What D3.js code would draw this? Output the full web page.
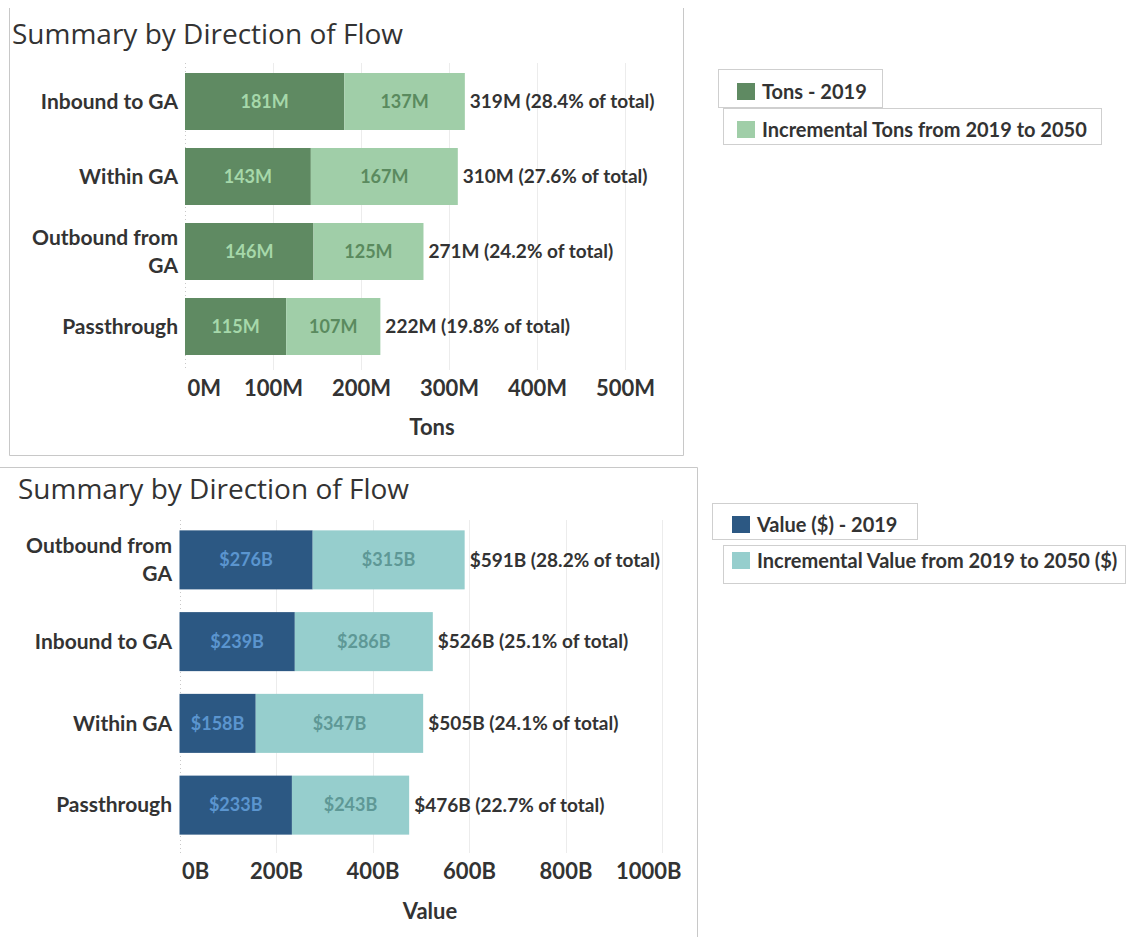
<!DOCTYPE html>
<html>
<head>
<meta charset="utf-8">
<script src="https://cdn.jsdelivr.net/npm/d3@7"></script>
<style>
  html, body { margin: 0; padding: 0; background: #fff; }
  svg text { font-family: Lato, "Open Sans", sans-serif; }
</style>
</head>
<body>
<svg id="chart" width="1129" height="937"></svg>
<script>
// ---------- DATA ----------
const chartTitle = "Summary by Direction of Flow";

const tonsCategories = ["Inbound to GA", "Within GA", "Outbound from GA", "Passthrough"];
const tons2019 = [181, 143, 146, 115];
const tonsIncremental = [137, 167, 125, 107];
const tonsTotal = [319, 310, 271, 222];
const tonsShare = [28.4, 27.6, 24.2, 19.8];
const tonsTicks = [0, 100, 200, 300, 400, 500];
const tonsSeries = ["Tons - 2019", "Incremental Tons from 2019 to 2050"];
const tonsAxisTitle = "Tons";

const valueCategories = ["Outbound from GA", "Inbound to GA", "Within GA", "Passthrough"];
const value2019 = [276, 239, 158, 233];
const valueIncremental = [315, 286, 347, 243];
const valueTotal = [591, 526, 505, 476];
const valueShare = [28.2, 25.1, 24.1, 22.7];
const valueTicks = [0, 200, 400, 600, 800, 1000];
const valueSeries = ["Value ($) - 2019", "Incremental Value from 2019 to 2050 ($)"];
const valueAxisTitle = "Value";

// ---------- DRAW ----------
const svg = d3.select("#chart");
const textColor = "#333333";

// panel borders
svg.append("path").attr("d", "M9.5,8 V455.5 H683.5 V8")
  .attr("fill", "none").attr("stroke", "#c8c8c8").attr("stroke-width", 1);
svg.append("path").attr("d", "M0,467.5 H697.5 V937")
  .attr("fill", "none").attr("stroke", "#c8c8c8").attr("stroke-width", 1);

function drawChart(cfg) {
  const g = svg.append("g");
  const rows = cfg.categories.map((c, i) => ({
    cat: c, base: cfg.base[i], inc: cfg.inc[i], total: cfg.total[i], share: cfg.share[i]
  }));

  const x = d3.scaleLinear().domain([cfg.ticks[0], cfg.ticks[cfg.ticks.length - 1]]).range(cfg.xRange);
  const y = d3.scaleBand().domain(cfg.categories).range(cfg.yRange)
    .paddingInner(cfg.padInner).paddingOuter(cfg.padInner / 2);

  // title
  g.append("text").attr("x", cfg.titleX).attr("y", cfg.titleY)
    .attr("font-size", 28).attr("fill", textColor)
    .style("font-family", "'Open Sans', Lato, sans-serif")
    .text(chartTitle);

  // gridlines
  g.selectAll(".grid").data(cfg.ticks.slice(1)).join("line")
    .attr("x1", d => Math.round(x(d)) + 0.5).attr("x2", d => Math.round(x(d)) + 0.5)
    .attr("y1", cfg.gridY[0]).attr("y2", cfg.gridY[1])
    .attr("stroke", "#ececec").attr("stroke-width", 1);
  // zero line (dotted)
  g.append("line")
    .attr("x1", Math.round(x(0)) + 0.5).attr("x2", Math.round(x(0)) + 0.5)
    .attr("y1", cfg.gridY[0]).attr("y2", cfg.gridY[1])
    .attr("stroke", "#c8c8c8").attr("stroke-dasharray", "1,3");

  // bars: base
  g.selectAll(".base").data(rows).join("rect")
    .attr("x", x(0)).attr("y", d => y(d.cat))
    .attr("width", d => x(d.base) - x(0)).attr("height", y.bandwidth())
    .attr("fill", cfg.colors[0]);
  // bars: incremental
  g.selectAll(".inc").data(rows).join("rect")
    .attr("x", d => x(d.base)).attr("y", d => y(d.cat))
    .attr("width", d => x(d.base + d.inc) - x(d.base)).attr("height", y.bandwidth())
    .attr("fill", cfg.colors[1]);

  // inner labels
  g.selectAll(".bl").data(rows).join("text")
    .attr("x", d => (x(0) + x(d.base)) / 2).attr("y", d => y(d.cat) + y.bandwidth() / 2)
    .attr("dy", "0.35em").attr("text-anchor", "middle")
    .attr("font-size", 18).attr("font-weight", "bold").attr("fill", cfg.labelColors[0])
    .text(d => cfg.fmt(d.base));
  g.selectAll(".il").data(rows).join("text")
    .attr("x", d => (x(d.base) + x(d.base + d.inc)) / 2).attr("y", d => y(d.cat) + y.bandwidth() / 2)
    .attr("dy", "0.35em").attr("text-anchor", "middle")
    .attr("font-size", 18).attr("font-weight", "bold").attr("fill", cfg.labelColors[1])
    .text(d => cfg.fmt(d.inc));

  // total labels
  g.selectAll(".tl").data(rows).join("text")
    .attr("x", d => x(d.base + d.inc) + 5).attr("y", d => y(d.cat) + y.bandwidth() / 2)
    .attr("dy", "0.35em").attr("text-anchor", "start")
    .attr("font-size", 19).attr("font-weight", "bold").attr("fill", textColor)
    .text(d => `${cfg.fmt(d.total)} (${d.share.toFixed(1)}% of total)`);

  // category labels (wrap "Outbound from GA")
  rows.forEach(d => {
    const lines = d.cat === "Outbound from GA" ? ["Outbound from", "GA"] : [d.cat];
    const cy = y(d.cat) + y.bandwidth() / 2;
    const lh = 28.5;
    const t = g.append("text").attr("text-anchor", "end")
      .attr("font-size", 21).attr("font-weight", "bold").attr("fill", textColor);
    lines.forEach((ln, k) => {
      t.append("tspan").attr("x", cfg.catX)
        .attr("y", cy + (k - (lines.length - 1) / 2) * lh)
        .attr("dy", "0.35em").text(ln);
    });
  });

  // x axis tick labels
  const axis = d3.axisBottom(x).tickValues(cfg.ticks).tickSize(0).tickFormat(cfg.tickFmt);
  const ax = g.append("g").attr("transform", `translate(0,${cfg.tickY})`).call(axis);
  ax.select(".domain").remove();
  ax.selectAll("text")
    .attr("y", 0).attr("dy", "0.35em")
    .attr("font-size", 22).attr("font-weight", "bold").attr("fill", textColor)
    .style("font-family", "Lato, 'Open Sans', sans-serif")
    .attr("text-anchor", (d, i) => i === 0 ? "start" : (i === cfg.ticks.length - 1 && cfg.lastEnd ? "end" : "middle"))
    .attr("x", (d, i) => i === 0 ? 2 : (i === cfg.ticks.length - 1 && cfg.lastEnd ? cfg.lastEnd - x(d) : 0));

  // axis title
  g.append("text").attr("x", cfg.axisTitleX).attr("y", cfg.axisTitleY)
    .attr("dy", "0.35em").attr("text-anchor", "middle")
    .attr("font-size", 22).attr("font-weight", "bold").attr("fill", textColor)
    .text(cfg.axisTitle);

  // legend
  const L = cfg.legend;
  L.boxes.forEach(b => {
    svg.append("rect").attr("x", b[0] + 0.5).attr("y", b[1] + 0.5)
      .attr("width", b[2] - b[0]).attr("height", b[3] - b[1])
      .attr("fill", "#fff").attr("stroke", "#cfcfcf");
  });
  cfg.series.forEach((s, i) => {
    svg.append("rect").attr("x", L.swX).attr("y", L.swY[i])
      .attr("width", 18).attr("height", 17).attr("fill", cfg.colors[i]);
    svg.append("text").attr("x", L.textX).attr("y", L.swY[i] + 8.5)
      .attr("dy", "0.35em").attr("font-size", 20).attr("font-weight", "bold")
      .attr("fill", textColor).text(s);
  });
}

drawChart({
  categories: tonsCategories, base: tons2019, inc: tonsIncremental,
  total: tonsTotal, share: tonsShare, ticks: tonsTicks, series: tonsSeries,
  axisTitle: tonsAxisTitle,
  fmt: v => `${v}M`, tickFmt: v => `${v}M`,
  xRange: [185, 625], yRange: [64, 364], padInner: 0.24,
  gridY: [63, 370],
  colors: ["#5f8a62", "#a0cea8"], labelColors: ["#a6d8aa", "#5a8a5e"],
  titleX: 12, titleY: 44, catX: 178, tickY: 388, axisTitleX: 432, axisTitleY: 427,
  lastEnd: null,
  legend: { boxes: [[718, 69, 882, 107], [723, 108, 1101, 144]], swX: 737, swY: [83, 121], textX: 762 }
});

drawChart({
  categories: valueCategories, base: value2019, inc: valueIncremental,
  total: valueTotal, share: valueShare, ticks: valueTicks, series: valueSeries,
  axisTitle: valueAxisTitle,
  fmt: v => `$${v}B`, tickFmt: v => `${v}B`,
  xRange: [179.5, 662], yRange: [519, 846], padInner: 0.278,
  gridY: [520, 853],
  colors: ["#2c5883", "#96cecd"], labelColors: ["#5b95cf", "#5e9896"],
  titleX: 18, titleY: 499, catX: 172, tickY: 871, axisTitleX: 430, axisTitleY: 911,
  lastEnd: 681,
  legend: { boxes: [[712, 503, 917, 539], [723, 545, 1125, 583]], swX: 732, swY: [516, 552], textX: 757 }
});
</script>
</body>
</html>
